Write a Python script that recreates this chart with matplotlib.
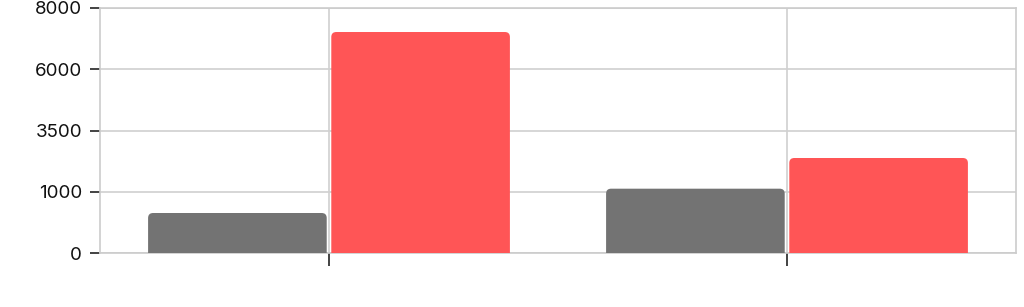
import matplotlib
matplotlib.use("Agg")
import matplotlib.pyplot as plt
from matplotlib.patches import FancyBboxPatch

categories = ["A", "B"]
series_gray = [1306, 2100]
series_red = [7216, 3102]
ytick_values = [0, 2000, 4000, 6000, 8000]
ytick_labels = ["0", "1000", "3500", "6000", "8000"]

plt.rcParams['font.family'] = ['Inter', 'DejaVu Sans']

W, H = 1024, 307
fig = plt.figure(figsize=(W / 100, H / 100), dpi=100)
left, right, top, bottom = 100, 1016, 8, 253
ax = fig.add_axes([left / W, (H - bottom) / H, (right - left) / W, (bottom - top) / H])

xlim = (-0.5, len(categories) - 0.5)
ylim = (0, 8000)
ax.set_xlim(*xlim)
ax.set_ylim(*ylim)

px_per_x = (right - left) / (xlim[1] - xlim[0])
px_per_y = (bottom - top) / (ylim[1] - ylim[0])
radius_px = 5
bw = 0.39
off = 0.2

def rbar(x, h, color):
    r = radius_px / px_per_x
    aspect = px_per_x / px_per_y
    extra = 20 / px_per_y
    p = FancyBboxPatch((x - bw / 2, -extra), bw, h + extra,
                       boxstyle=f"round,pad=0,rounding_size={r}",
                       mutation_aspect=aspect,
                       facecolor=color, edgecolor='none', zorder=3,
                       clip_on=True)
    ax.add_patch(p)
    p.set_clip_box(ax.bbox)

for i in range(len(categories)):
    rbar(i - off, series_gray[i], '#737373')
    rbar(i + off, series_red[i], '#ff5556')

ax.set_yticks(ytick_values)
ax.set_yticklabels(ytick_labels, fontsize=13.5, color='#111111')
ax.set_xticks(range(len(categories)))
ax.set_xticklabels([])
ax.grid(True, color='#d0d0d0', linewidth=1.2, zorder=0)
ax.set_axisbelow(True)
for s in ax.spines.values():
    s.set_color('#cccccc')
    s.set_linewidth(1.2)
ax.tick_params(axis='y', length=7, width=1.2, color='#222222', pad=6)
ax.tick_params(axis='x', length=9, width=1.2, color='#222222')

fig.savefig("out.png", dpi=100)
